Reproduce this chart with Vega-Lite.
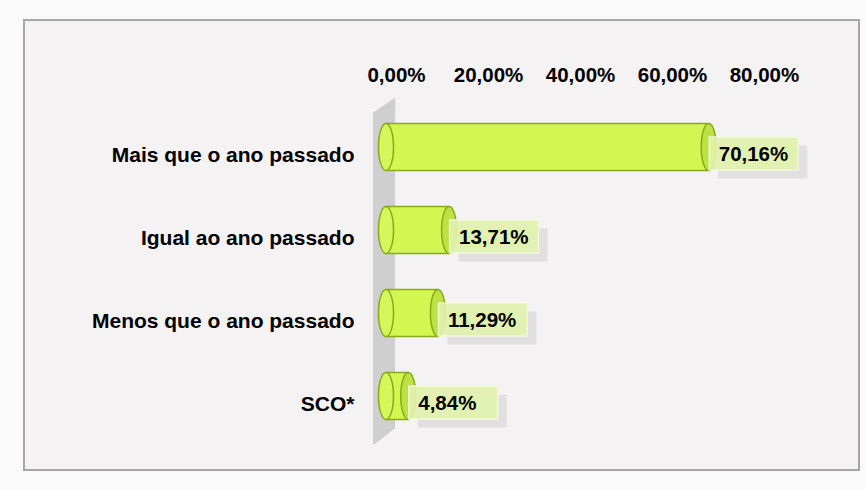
{
  "$schema": "https://vega.github.io/schema/vega-lite/v6.json",
  "autosize": {"type": "none"},
  "padding": {"left": 24, "top": 20, "right": 7, "bottom": 19},
  "width": 835,
  "height": 450,
  "background": "#fbfafb",
  "config": {
    "view": {"fill": "#f4f2f3", "stroke": "#a6a6a6", "strokeWidth": 2},
    "font": "Liberation Sans",
    "locale": {
      "number": {"decimal": ",", "thousands": ".", "grouping": [3], "currency": ["R$", ""]}
    }
  },
  "data": {
    "values": [
      {"categoria": "Mais que o ano passado", "valor": 0.7016},
      {"categoria": "Igual ao ano passado", "valor": 0.1371},
      {"categoria": "Menos que o ano passado", "valor": 0.1129},
      {"categoria": "SCO*", "valor": 0.0484}
    ]
  },
  "encoding": {
    "y": {
      "field": "categoria",
      "type": "nominal",
      "sort": null,
      "title": null,
      "scale": {"paddingInner": 0.434, "paddingOuter": 0.928, "align": 0.672},
      "axis": {
        "orient": "left",
        "offset": -332,
        "domain": false,
        "ticks": false,
        "tickSize": 0,
        "labelPadding": 2,
        "labelFontSize": 21,
        "labelFontWeight": "bold",
        "labelColor": "#000000",
        "labelOffset": 9,
        "labelLimit": 400
      }
    }
  },
  "layer": [
    {
      "mark": {
        "type": "point",
        "shape": "M-0.0629,-0.903L0.0629,-0.989L0.0629,0.897L-0.0629,0.994Z",
        "size": 122500,
        "filled": true,
        "fill": "#cfcfcf",
        "opacity": 1,
        "strokeWidth": 0,
        "yOffset": 26
      },
      "encoding": {
        "x": {"datum": -0.0043, "type": "quantitative"},
        "y": null
      }
    },
    {
      "mark": {"type": "bar", "fill": "#d3f650", "stroke": "#88aa1a", "strokeWidth": 1.5},
      "encoding": {
        "x": {
          "field": "valor",
          "type": "quantitative",
          "title": null,
          "scale": {"domain": [-0.787, 1.0283], "nice": false, "zero": false},
          "axis": {
            "orient": "top",
            "values": [0, 0.2, 0.4, 0.6, 0.8],
            "format": ".2%",
            "offset": -63,
            "domain": false,
            "ticks": false,
            "tickSize": 0,
            "grid": false,
            "labelPadding": 2,
            "labelBaseline": "alphabetic",
            "labelOffset": 10,
            "labelFontSize": 20.5,
            "labelFontWeight": "bold",
            "labelColor": "#000000"
          }
        },
        "x2": {"datum": 0}
      }
    },
    {
      "mark": {
        "type": "point",
        "shape": "M0,-1A0.32,1 0 1,1 0,1A0.32,1 0 1,1 0,-1Z",
        "size": 2209,
        "filled": true,
        "fill": "#d6f75a",
        "stroke": "#88aa1a",
        "strokeWidth": 1.5,
        "opacity": 1
      },
      "encoding": {
        "x": {"datum": 0, "type": "quantitative"}
      }
    },
    {
      "mark": {
        "type": "point",
        "shape": "M0,-1A0.32,1 0 1,1 0,1A0.32,1 0 1,1 0,-1Z",
        "size": 2209,
        "filled": true,
        "fill": "#bde043",
        "stroke": "#88aa1a",
        "strokeWidth": 1.5,
        "opacity": 1
      },
      "encoding": {
        "x": {"field": "valor", "type": "quantitative"}
      }
    },
    {
      "mark": {
        "type": "point",
        "shape": "M-1,-0.371H1V0.371H-1Z",
        "size": 7921,
        "filled": true,
        "fill": "#b5b3b5",
        "opacity": 0.3,
        "strokeWidth": 0,
        "xOffset": 54,
        "yOffset": 15
      },
      "encoding": {
        "x": {"field": "valor", "type": "quantitative"}
      }
    },
    {
      "mark": {
        "type": "point",
        "shape": "M-1,-0.371H1V0.371H-1Z",
        "size": 7921,
        "filled": true,
        "fill": "#e2f3ae",
        "opacity": 0.9,
        "stroke": "#f3fadc",
        "strokeWidth": 1.5,
        "xOffset": 45,
        "yOffset": 6.5
      },
      "encoding": {
        "x": {"field": "valor", "type": "quantitative"}
      }
    },
    {
      "mark": {
        "type": "text",
        "align": "left",
        "baseline": "middle",
        "dx": 10,
        "dy": 8,
        "fontSize": 20.5,
        "fontWeight": "bold",
        "color": "#000000"
      },
      "encoding": {
        "x": {"field": "valor", "type": "quantitative"},
        "text": {"field": "valor", "type": "quantitative", "format": ".2%"}
      }
    }
  ]
}
